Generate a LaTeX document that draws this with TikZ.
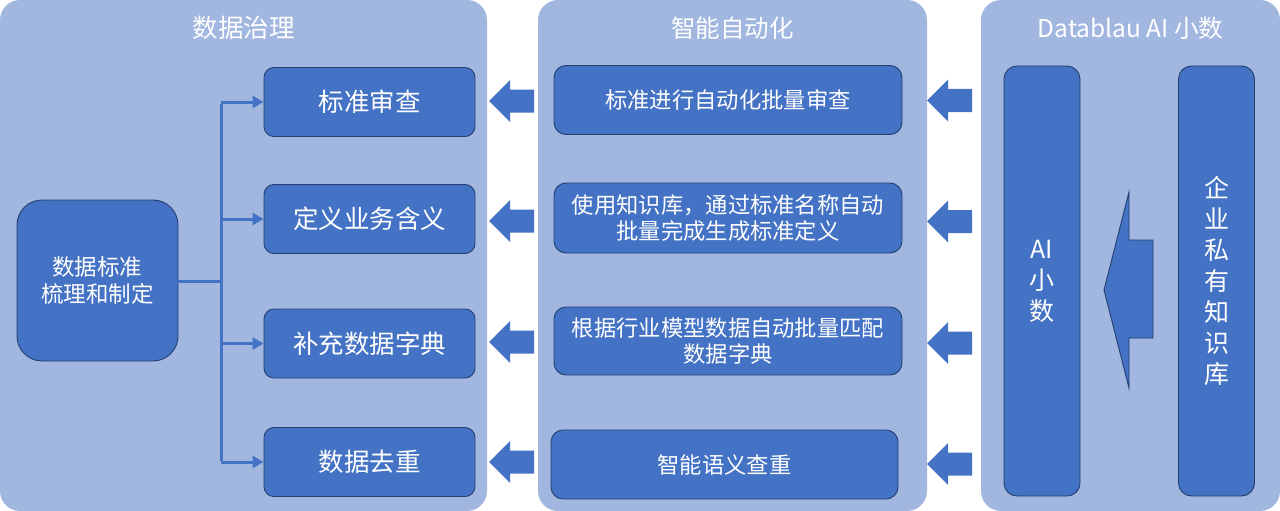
\documentclass[tikz,border=0pt]{standalone}
\usepackage{fontspec}
\setmainfont{Noto Sans CJK SC}
\usetikzlibrary{arrows.meta}
\definecolor{panelc}{HTML}{A1B7E0}
\definecolor{boxc}{HTML}{4472C4}
\definecolor{edgec}{HTML}{243F6E}
\tikzset{
  panel/.style={fill=panelc, draw=none, rounded corners=20pt},
  ptitle/.style={text=white, font=\fontsize{25.5}{30}\selectfont, inner sep=0pt},
  lbox/.style={fill=boxc, draw=edgec, line width=0.9pt, rounded corners=10pt, minimum width=211pt, minimum height=69pt, inner sep=0pt, text=white, font=\fontsize{25.5}{30}\selectfont},
  mbox/.style={fill=boxc, draw=edgec, line width=0.9pt, rounded corners=12pt, minimum width=348pt, minimum height=69pt, inner sep=0pt, text=white, align=center, font=\fontsize{22.3}{26}\selectfont},
  vbox/.style={fill=boxc, draw=edgec, line width=0.9pt, rounded corners=13pt, minimum width=76pt, minimum height=430pt, inner sep=0pt, text=white, align=center, font=\fontsize{25}{31}\selectfont},
  conn/.style={draw=boxc, line width=3pt},
  connarrow/.style={conn, -{Triangle[length=11pt,width=12pt]}},
  blockarr/.style={fill=boxc, draw=none},
}
\newcommand\leftblock[2]{% tip x, center y
  \fill[blockarr] (#1,#2) -- ++(21,-21) -- ++(0,9.5) -- ++(24,0) -- ++(0,23) -- ++(-24,0) -- ++(0,9.5) -- cycle;}
\begin{document}
\begin{tikzpicture}[x=1pt,y=-1pt]
\useasboundingbox (0,0) rectangle (1280,511);
% panels
\fill[panel] (0,0) rectangle (487,511);
\fill[panel] (538,0) rectangle (927,511);
\fill[panel] (981,0) rectangle (1280,511);
\node[ptitle] (t1) at (243.5,28) {数据治理};
\node[ptitle, font=\fontsize{24.5}{30}\selectfont] (t2) at (732.5,28) {智能自动化};
\node[ptitle, font=\fontsize{24.5}{30}\selectfont] (t3) at (1130.5,28) {Datablau AI 小数};
% left panel
\node[fill=boxc, draw=edgec, line width=0.9pt, rounded corners=25pt, minimum width=161pt, minimum height=161pt, inner sep=0pt, text=white, align=center, font=\fontsize{22.5}{27}\selectfont] (big) at (97.5,280.5) {数据标准\\梳理和制定};
\node[lbox] (l1) at (369.5,102) {标准审查};
\node[lbox] (l2) at (369.5,219) {定义业务含义};
\node[lbox] (l3) at (369.5,343.5) {补充数据字典};
\node[lbox] (l4) at (369.5,462) {数据去重};
\coordinate (j) at (221,281);
\coordinate (jt) at (221,102);
\coordinate (jb) at (221,462);
\draw[conn] (big.east |- j) -- (j);
\draw[conn] ([yshift=-1.5pt]jt) -- ([yshift=1.5pt]jb);
\draw[connarrow] (jt) -- (l1.west);
\draw[connarrow] (j |- l2.west) -- (l2.west);
\draw[connarrow] (j |- l3.west) -- (l3.west);
\draw[connarrow] (jb) -- (l4.west);
% middle panel
\node[mbox] (m1) at (728,100) {标准进行自动化批量审查};
\node[mbox, minimum height=70pt] (m2) at (728,218) {使用知识库，通过标准名称自动\\批量完成生成标准定义};
\node[mbox, minimum height=68pt] (m3) at (728,341) {根据行业模型数据自动批量匹配\\数据字典};
\node[mbox, minimum width=347pt] (m4) at (724.5,464.5) {智能语义查重};
% block arrows
\leftblock{489}{101}
\leftblock{489}{221}
\leftblock{489}{342}
\leftblock{489}{462}
\leftblock{927}{100.5}
\leftblock{927}{221.5}
\leftblock{927}{343}
\leftblock{927}{464}
% right panel
\node[vbox] (ai) at (1042,281) {AI\\小\\数};
\node[vbox] (kb) at (1216.5,281) {企\\业\\私\\有\\知\\识\\库};
\draw[fill=boxc, draw=edgec, line width=0.9pt] (1104,290) -- (1129,192) -- (1129,240) -- (1153,240) -- (1153,338) -- (1129,338) -- (1129,388) -- cycle;
\end{tikzpicture}
\end{document}
